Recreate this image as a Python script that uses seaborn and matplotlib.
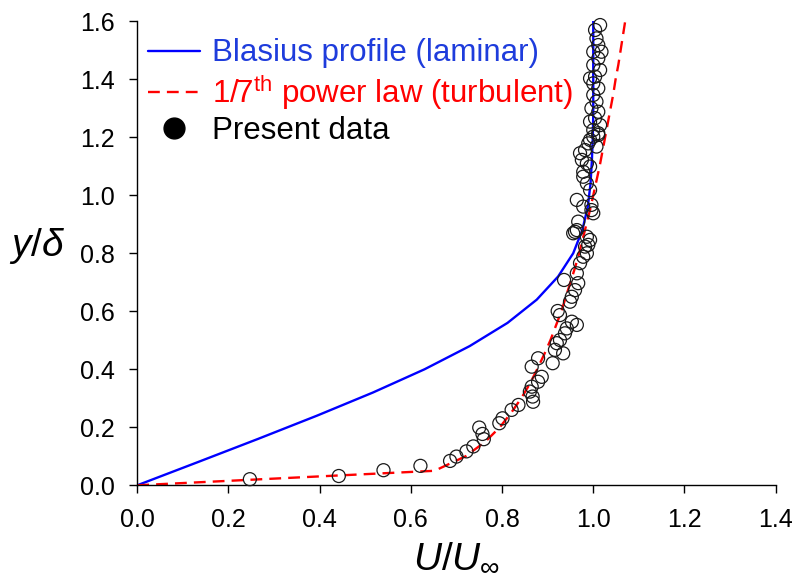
import pandas as pd
import matplotlib
matplotlib.use("Agg")
import matplotlib.pyplot as plt
import seaborn as sns
from matplotlib.lines import Line2D

# Blasius profile (laminar), y/delta vs U/Uinf
blasius_y = [0.0, 0.08, 0.16, 0.24, 0.32, 0.40, 0.48, 0.56, 0.64, 0.72, 0.80,
             0.88, 0.96, 1.04, 1.12, 1.20, 1.28, 1.36, 1.44, 1.52, 1.60]
blasius_u = [0.0, 0.133, 0.265, 0.394, 0.517, 0.630, 0.729, 0.812, 0.876, 0.923, 0.956,
             0.976, 0.988, 0.994, 0.997, 0.999, 1.000, 1.000, 1.000, 1.000, 1.000]

# 1/7th power law (turbulent)
power_y = [0.0, 0.05, 0.10, 0.15, 0.20, 0.25, 0.30, 0.35, 0.40, 0.45, 0.50, 0.55,
           0.60, 0.65, 0.70, 0.75, 0.80, 0.85, 0.90, 0.95, 1.00, 1.05, 1.10, 1.15,
           1.20, 1.25, 1.30, 1.35, 1.40, 1.45, 1.50, 1.55, 1.60]
power_u = [0.0, 0.652, 0.720, 0.763, 0.795, 0.820, 0.842, 0.861, 0.877, 0.892, 0.906, 0.918,
           0.930, 0.940, 0.950, 0.960, 0.969, 0.977, 0.985, 0.993, 1.000, 1.007, 1.014, 1.020,
           1.026, 1.032, 1.038, 1.044, 1.049, 1.055, 1.060, 1.065, 1.070]

# present data
data_u = [0.247, 0.442, 0.540, 0.621, 0.686, 0.700, 0.722, 0.737, 0.750, 0.757, 0.760,
          0.794, 0.801, 0.821, 0.836, 0.861, 0.865, 0.868, 0.867, 0.879, 0.887, 0.865,
          0.879, 0.911, 0.916, 0.920, 0.934, 0.927, 0.938, 0.942, 0.964, 0.953, 0.922,
          0.927, 0.949, 0.953, 0.960, 0.967, 0.936, 0.964, 0.971, 0.978, 0.989, 0.993,
          0.986, 0.960,
          0.971, 0.982, 0.975, 0.986, 1.000, 1.011, 0.978, 0.986, 0.993, 0.964, 0.978,
          0.996, 1.000, 0.996, 0.967, 0.964, 0.982, 0.956, 0.986, 0.978, 0.993, 0.989,
          1.007,
          1.015, 1.004, 1.007, 1.011, 1.000, 1.011, 1.000, 1.015, 1.004, 1.000, 1.011,
          1.000, 1.007, 0.996, 1.011, 1.004, 0.993, 1.015, 1.000, 1.011, 0.993, 1.018,
          0.993]
data_y = [0.021, 0.032, 0.052, 0.067, 0.084, 0.099, 0.117, 0.134, 0.199, 0.177, 0.159,
          0.214, 0.231, 0.260, 0.277, 0.323, 0.340, 0.288, 0.306, 0.357, 0.374, 0.409,
          0.438, 0.421, 0.467, 0.490, 0.455, 0.501, 0.524, 0.541, 0.553, 0.564, 0.601,
          0.587, 0.633, 0.650, 0.673, 0.697, 0.708, 0.731, 0.766, 0.788, 0.829, 0.846,
          0.857, 0.874,
          1.145, 1.156, 1.122, 1.110, 1.202, 1.214, 1.064, 1.041, 1.018, 0.984, 0.961,
          0.949, 0.938, 0.967, 0.909, 0.880, 0.823, 0.869, 0.800, 1.081, 1.099, 1.179,
          1.168,
          1.587, 1.570, 1.541, 1.518, 1.495, 1.472, 1.449, 1.432, 1.409, 1.386, 1.369,
          1.346, 1.323, 1.300, 1.288, 1.266, 1.254, 1.242, 1.225, 1.208, 1.191, 1.495,
          1.403]

x_ticks = [0.0, 0.2, 0.4, 0.6, 0.8, 1.0, 1.2, 1.4]
y_ticks = [0.0, 0.2, 0.4, 0.6, 0.8, 1.0, 1.2, 1.4, 1.6]

sns.set_theme(style="ticks")
plt.rcParams.update({
    "font.family": ["Liberation Sans", "DejaVu Sans"],
    "mathtext.fontset": "custom",
    "mathtext.rm": "Liberation Sans",
    "mathtext.it": "Liberation Sans:italic",
    "mathtext.bf": "Liberation Sans:bold",
    "axes.edgecolor": "black",
    "xtick.color": "black",
    "ytick.color": "black",
    "text.color": "black",
    "axes.labelcolor": "black",
})

df_bl = pd.DataFrame({"u": blasius_u, "y": blasius_y})
df_pw = pd.DataFrame({"u": power_u, "y": power_y})
df_dat = pd.DataFrame({"u": data_u, "y": data_y})

fig = plt.figure(figsize=(7.98, 5.80), dpi=100)
ax = fig.add_axes([0.172, 0.1633, 0.800, 0.800])

sns.lineplot(data=df_bl, x="u", y="y", sort=False, estimator=None, ax=ax,
             color="blue", lw=1.7)
sns.lineplot(data=df_pw, x="u", y="y", sort=False, estimator=None, ax=ax,
             color="red", lw=1.7, dashes=False, linestyle=(0, (5, 3)))
sns.scatterplot(data=df_dat, x="u", y="y", ax=ax, s=88, facecolor="none",
                edgecolor="#1a1a1a", linewidth=0.9, clip_on=False, zorder=3)

ax.set_xlim(0, 1.4)
ax.set_ylim(0, 1.6)
ax.set_xticks(x_ticks)
ax.set_yticks(y_ticks)
ax.set_xticklabels([f"{t:.1f}" for t in x_ticks])
ax.set_yticklabels([f"{t:.1f}" for t in y_ticks])
ax.tick_params(axis="both", labelsize=18, length=6, width=1, direction="out", pad=10)
sns.despine(ax=ax)
for sp in ax.spines.values():
    sp.set_linewidth(1.0)

ax.set_xlabel(r"$U/U_{\infty}$", fontsize=28)
ax.xaxis.label.set_va("center")
ax.xaxis.set_label_coords(0.5, -0.155)
ax.set_ylabel(r"$y/\delta$", fontsize=28, rotation=0)
ax.yaxis.label.set_va("center")
ax.yaxis.label.set_ha("center")
ax.yaxis.set_label_coords(-0.157, 0.516)

handles = [
    Line2D([], [], color="blue", lw=1.7),
    Line2D([], [], color="red", lw=1.7, linestyle=(0, (5, 3))),
    Line2D([], [], color="black", marker="o", markersize=15, linestyle="none"),
]
labels = ["Blasius profile (laminar)",
          r"1/7$^{\mathrm{th}}$ power law (turbulent)",
          "Present data"]
ax.legend(handles, labels, loc="upper left", bbox_to_anchor=(0.0168, 0.963),
          frameon=False, fontsize=22.5, handlelength=1.67, handletextpad=0.38,
          labelspacing=0.13, borderaxespad=0.0, borderpad=0.0,
          labelcolor=["#1e3cdc", "red", "black"])

fig.savefig("out.png", dpi=100)
